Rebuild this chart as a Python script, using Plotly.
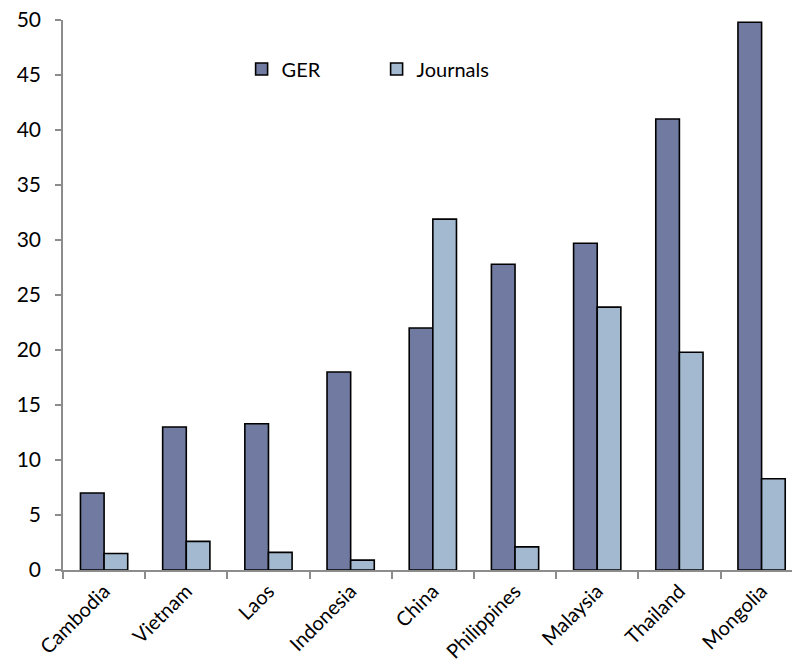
import plotly.graph_objects as go

countries = ["Cambodia", "Vietnam", "Laos", "Indonesia", "China",
             "Philippines", "Malaysia", "Thailand", "Mongolia"]
ger = [7.0, 13.0, 13.3, 18.0, 22.0, 27.8, 29.7, 41.0, 49.8]
journals = [1.5, 2.6, 1.6, 0.9, 31.9, 2.1, 23.9, 19.8, 8.3]
y_ticks = [0, 5, 10, 15, 20, 25, 30, 35, 40, 45, 50]

FONT = "Lato, 'Open Sans', sans-serif"
AXIS_GREY = "#8c8c8c"

fig = go.Figure()
fig.add_trace(go.Bar(
    name="GER", x=countries, y=ger,
    marker=dict(color="#717ba1", line=dict(color="#000000", width=1.6)),
))
fig.add_trace(go.Bar(
    name="Journals", x=countries, y=journals,
    marker=dict(color="#a2b9cf", line=dict(color="#000000", width=1.6)),
))

fig.update_layout(
    width=792, height=668,
    margin=dict(l=63, r=0, t=20, b=98),
    paper_bgcolor="white", plot_bgcolor="white",
    barmode="group", bargap=0.425, bargroupgap=0,
    font=dict(family=FONT, size=20, color="#000000"),
    showlegend=True,
    legend=dict(
        orientation="h", x=0.245, y=0.911, xanchor="left", yanchor="middle",
        font=dict(family=FONT, size=20, color="#000000"),
        entrywidth=90, entrywidthmode="pixels",
        bgcolor="rgba(0,0,0,0)", traceorder="normal",
    ),
)

fig.update_xaxes(
    type="category", range=[-0.5, 8.37], automargin=False,
    showline=True, linecolor=AXIS_GREY, linewidth=1.5,
    ticks="outside", ticklen=7, tickcolor=AXIS_GREY, tickwidth=1.5,
    tickson="boundaries", tickangle=-45,
    tickfont=dict(family=FONT, size=20, color="#000000"),
    showgrid=False, zeroline=False,
)
fig.update_yaxes(
    range=[0, 50], tickvals=y_ticks, ticktext=[str(v) for v in y_ticks],
    automargin=False,
    showline=True, linecolor=AXIS_GREY, linewidth=1.5,
    ticks="outside", ticklen=6, tickcolor=AXIS_GREY, tickwidth=1.5,
    ticklabelstandoff=10,
    tickfont=dict(family=FONT, size=21, color="#000000"),
    showgrid=False, zeroline=False,
)

fig.write_html("out.html")
